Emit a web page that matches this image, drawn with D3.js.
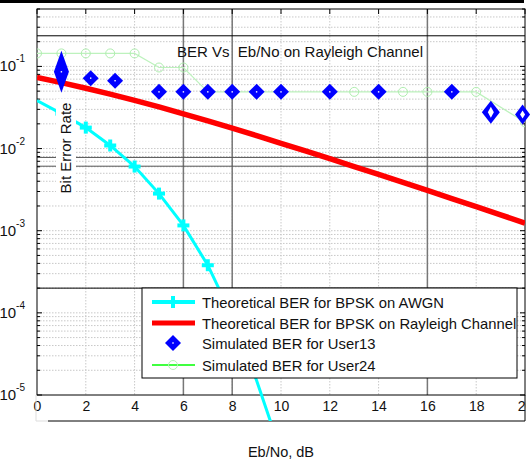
<!DOCTYPE html>
<html>
<head>
<meta charset="utf-8">
<script src="https://cdn.jsdelivr.net/npm/d3@7"></script>
<style>
	body { margin: 0; background: #fff; }
	svg { display: block; font-family: "Liberation Sans", Arial, sans-serif; }
	.grid line { stroke: #c8c8c8; stroke-width: 1; stroke-dasharray: 1.5, 1.5; }
	.axis path, .axis line { stroke: #000; }
	.axis text { fill: #111; }
</style>
</head>
<body>
<div id="chart"></div>
<script>
// Eb/No points (dB)
const ebno = [0, 1, 2, 3, 4, 5, 6, 7, 8, 9, 10, 11, 12, 13, 14, 15, 16, 17, 18, 19, 20];

// Theoretical BER, BPSK on AWGN (runs below the axis)
const awgnX = [0, 1, 2, 3, 4, 5, 6, 7, 8, 9, 10];
const awgnBer = [0.0383, 0.0266, 0.018, 0.0109, 0.00604, 0.00283, 0.00116, 0.00038, 0.00009, 0.000015, 0.000002];

// Theoretical BER, BPSK on Rayleigh
const rayleighBer = [0.0732, 0.0634, 0.0542, 0.046, 0.0386, 0.0321, 0.0265, 0.0217, 0.0177, 0.0144,
	0.0116, 0.00937, 0.00753, 0.00603, 0.00484, 0.00387, 0.00309, 0.00246, 0.00196, 0.00156, 0.00124];

// Simulated BER for User13
const user13X = [1, 2.2, 3.2, 5, 6, 7, 8, 9, 10, 12, 14, 17, 18.6, 19.9];
const user13Ber = [0.086, 0.072, 0.067, 0.049, 0.049, 0.049, 0.049, 0.049, 0.049, 0.049, 0.049, 0.049, 0.0276, 0.026];

// Simulated BER for User24
const user24X = [0, 1, 2, 3, 4, 5, 6, 7, 8, 9, 10, 12, 13, 14, 15, 16, 17, 18, 20];
const user24Ber = [0.144, 0.144, 0.144, 0.144, 0.144, 0.097, 0.097, 0.049, 0.049, 0.049, 0.049, 0.049,
	0.049, 0.049, 0.049, 0.049, 0.049, 0.049, 0.0209];

// stray lines left over in the screenshot (data units)
const strayY = [0.236, 0.0078, 0.0061, 0.0002];
const strayX = [6, 8, 16];

const xTicks = [0, 2, 4, 6, 8, 10, 12, 14, 16, 18, 20];
const yDecades = [-5, -4, -3, -2, -1];

const legendLabels = [
	"Theoretical BER for BPSK on AWGN",
	"Theoretical BER for BPSK on Rayleigh Channel",
	"Simulated BER for User13",
	"Simulated BER for User24"
];

function diamond(cx, cy, w, h) {
	return `M${cx},${cy - h}L${cx + w},${cy}L${cx},${cy + h}L${cx - w},${cy}Z`;
}

function plusMark(sel, cx, cy) {
	sel.append('line').attr('x1', cx - 6).attr('x2', cx + 6).attr('y1', cy).attr('y2', cy)
		.style('stroke', '#00ffff').style('stroke-width', 4);
	sel.append('line').attr('x1', cx).attr('x2', cx).attr('y1', cy - 6).attr('y2', cy + 6)
		.style('stroke', '#00ffff').style('stroke-width', 4);
}

function drawChart(container) {
	const width = 531,
		height = 462,
		margin = {top: 9, right: 6, bottom: 67, left: 37},
		innerWidth = width - margin.left - margin.right,
		innerHeight = height - margin.top - margin.bottom;

	const svg = d3.select(container).append('svg')
		.attr('width', width)
		.attr('height', height);

	// window border at top
	svg.append('rect').attr('x', 0).attr('y', 0).attr('width', 524).attr('height', 3).style('fill', '#000');

	const g = svg.append('g')
		.attr('transform', `translate(${margin.left},${margin.top})`);

	const x = d3.scaleLinear().domain([0, 20]).range([0, innerWidth]);
	const y = d3.scaleLog().domain([1e-5, 0.5]).range([innerHeight, 0]);

	g.append('clipPath').attr('id', 'plotClip')
		.append('rect').attr('width', innerWidth).attr('height', innerHeight);
	g.append('clipPath').attr('id', 'lowClip')
		.append('rect').attr('width', innerWidth).attr('height', innerHeight + 26);
	g.append('clipPath').attr('id', 'labelClip')
		.append('rect').attr('x', -10).attr('width', innerWidth + 11).attr('height', innerHeight + 40);

	// grid
	const grid = g.append('g').classed('grid', true);
	grid.selectAll('line.v').data(xTicks.slice(1, -1)).enter().append('line')
		.attr('x1', d => x(d)).attr('x2', d => x(d)).attr('y1', 0).attr('y2', innerHeight);
	grid.selectAll('line.h').data(y.ticks().filter(d => d > 1e-5 && d < 0.5)).enter().append('line')
		.attr('x1', 0).attr('x2', innerWidth).attr('y1', d => y(d)).attr('y2', d => y(d));

	// stray darker lines
	g.selectAll('.stray-v').data(strayX).enter().append('line')
		.attr('x1', d => x(d)).attr('x2', d => x(d)).attr('y1', 0).attr('y2', innerHeight)
		.style('stroke', '#777').style('stroke-width', 1.5);
	g.selectAll('.stray-h').data(strayY).enter().append('line')
		.attr('x1', 0).attr('x2', innerWidth).attr('y1', d => y(d)).attr('y2', d => y(d))
		.style('stroke', (d, i) => (i === 1 || i === 2) ? '#555' : '#000').style('stroke-width', 1);

	// axes box
	g.append('rect').attr('width', innerWidth).attr('height', innerHeight)
		.style('fill', 'none').style('stroke', '#000');

	// y ticks, both sides
	const yMinor = y.ticks().filter(d => d <= 0.5);
	const isMajor = d => Math.abs(Math.log10(d) - Math.round(Math.log10(d))) < 1e-6;
	const yAxisL = d3.axisLeft(y).tickValues(yMinor).tickSize(0).tickFormat('');
	g.append('g').classed('axis', true).call(yAxisL).select('.domain').remove();
	[0, innerWidth].forEach((x0, side) => {
		g.selectAll(null).data(yMinor).enter().append('line')
			.attr('x1', x0).attr('x2', d => x0 + (side ? -1 : 1) * (isMajor(d) ? 5 : 3))
			.attr('y1', d => y(d)).attr('y2', d => y(d))
			.style('stroke', '#000');
	});

	// y labels with superscript
	const yLab = g.selectAll('.ylab').data(yDecades).enter().append('text')
		.attr('x', -12).attr('y', d => y(Math.pow(10, d)) + 5)
		.attr('text-anchor', 'end')
		.style('font-size', '15px').style('fill', '#111');
	yLab.append('tspan').text('10');
	yLab.append('tspan').attr('dy', -9).style('font-size', '10px').text(d => d);

	// x axis
	const xAxis = d3.axisBottom(x).tickValues(xTicks).tickSize(-5).tickPadding(8);
	const xg = g.append('g').classed('axis', true)
		.attr('transform', `translate(0,${innerHeight})`)
		.attr('clip-path', 'url(#labelClip)')
		.call(xAxis);
	xg.select('.domain').remove();
	xg.selectAll('text').style('font-size', '14px').attr('dy', '0.6em');
	g.selectAll('.xtop').data(xTicks).enter().append('line')
		.attr('x1', d => x(d)).attr('x2', d => x(d)).attr('y1', 0).attr('y2', 5)
		.style('stroke', '#000');

	// box under tick labels
	g.append('line').attr('x1', 11).attr('x2', innerWidth).attr('y1', innerHeight + 26).attr('y2', innerHeight + 26)
		.style('stroke', '#000');
	g.append('line').attr('x1', -1).attr('x2', 11).attr('y1', innerHeight + 26).attr('y2', innerHeight + 26)
		.style('stroke', '#ddd');
	g.append('line').attr('x1', -1).attr('x2', -1).attr('y1', innerHeight).attr('y2', innerHeight + 26)
		.style('stroke', '#ddd');
	g.append('line').attr('x1', innerWidth).attr('x2', innerWidth).attr('y1', innerHeight).attr('y2', innerHeight + 26)
		.style('stroke', '#000');

	// User24 line + circles
	const plot = g.append('g').attr('clip-path', 'url(#plotClip)');
	const line24 = d3.line().x((d, i) => x(user24X[i])).y(d => y(d));
	plot.append('path').datum(user24Ber).attr('d', line24)
		.style('fill', 'none').style('stroke', '#bdf2bd').style('stroke-width', 1.2);
	plot.selectAll('.c24').data(user24Ber).enter().append('circle')
		.attr('cx', (d, i) => x(user24X[i])).attr('cy', d => y(d)).attr('r', 4.5)
		.style('fill', 'none').style('stroke', '#b0eeb0').style('stroke-width', 1);

	// Rayleigh theory
	const lineR = d3.line().x((d, i) => x(ebno[i])).y(d => y(d));
	plot.append('path').datum(rayleighBer).attr('d', lineR)
		.style('fill', 'none').style('stroke', '#ff0000').style('stroke-width', 5.5)
		.style('stroke-linejoin', 'round');

	// AWGN theory, runs past the axis down to the lower box
	const low = g.append('g').attr('clip-path', 'url(#lowClip)');
	const lineA = d3.line().x((d, i) => x(awgnX[i])).y(d => y(d));
	low.append('path').datum(awgnBer).attr('d', lineA)
		.style('fill', 'none').style('stroke', '#00ffff').style('stroke-width', 3);
	awgnBer.forEach((d, i) => {
		if (i > 0 && i < 8) plusMark(low, x(awgnX[i]), y(d));
	});

	// User13 diamonds
	const bigMarks = {0: [7.5, 21, 0, 0], 12: [9, 11.5, 3, 5.5], 13: [7.5, 10, 2.5, 4]};
	user13Ber.forEach((d, i) => {
		const cx = x(user13X[i]), cy = y(d);
		const m = bigMarks[i] || [8, 8, 0, 0];
		g.append('path').attr('d', diamond(cx, cy, m[0], m[1])).style('fill', '#0000ff');
		if (m[2]) {
			g.append('path').attr('d', diamond(cx, cy, m[2], m[3])).style('fill', '#fff');
		} else {
			g.append('rect').attr('x', cx - 0.7).attr('y', cy - 0.7).attr('width', 1.4).attr('height', 1.4)
				.style('fill', '#fff');
		}
	});

	// title
	g.append('text')
		.attr('x', 300 - margin.left).attr('y', 57 - margin.top)
		.attr('text-anchor', 'middle')
		.style('font-size', '15px').style('fill', '#111').style('white-space', 'pre')
		.text('BER Vs  Eb/No on Rayleigh Channel');

	// y label with white background
	const yl = g.append('g').attr('transform', `translate(${66 - margin.left},${148 - margin.top}) rotate(-90)`);
	yl.append('rect').attr('x', -49).attr('y', -10).attr('width', 98).attr('height', 20).style('fill', '#fff');
	yl.append('text').attr('text-anchor', 'middle').attr('dy', '0.35em')
		.style('font-size', '15px').style('fill', '#111').text('Bit Error Rate');

	// x label
	svg.append('text')
		.attr('x', 281).attr('y', 457)
		.attr('text-anchor', 'middle')
		.style('font-size', '14.5px').style('fill', '#111')
		.text('Eb/No, dB');

	// legend
	const lg = svg.append('g').attr('transform', 'translate(142,288)');
	lg.append('rect').attr('width', 375).attr('height', 90)
		.style('fill', '#fff').style('stroke', '#000');
	const rowY = [14, 35, 55, 77];
	legendLabels.forEach((label, i) => {
		const ry = rowY[i];
		if (i === 0) {
			lg.append('line').attr('x1', 10).attr('x2', 53).attr('y1', ry).attr('y2', ry)
				.style('stroke', '#00ffff').style('stroke-width', 4);
			plusMark(lg, 31, ry);
		} else if (i === 1) {
			lg.append('line').attr('x1', 10).attr('x2', 53).attr('y1', ry).attr('y2', ry)
				.style('stroke', '#ff0000').style('stroke-width', 5);
		} else if (i === 2) {
			lg.append('path').attr('d', diamond(31, ry, 8, 8)).style('fill', '#0000ff');
			lg.append('rect').attr('x', 30.3).attr('y', ry - 0.7).attr('width', 1.4).attr('height', 1.4).style('fill', '#fff');
		} else {
			lg.append('line').attr('x1', 10).attr('x2', 53).attr('y1', ry).attr('y2', ry)
				.style('stroke', '#00ff00').style('stroke-width', 1.5);
			lg.append('circle').attr('cx', 31).attr('cy', ry).attr('r', 4.5)
				.style('fill', 'none').style('stroke', '#b4f0b4');
		}
		lg.append('text').attr('x', 60).attr('y', ry + 5.5)
			.style('font-size', '14.8px').style('fill', '#111').text(label);
	});
}

window.onload = function () {
	drawChart('#chart');
};
</script>
</body>
</html>
